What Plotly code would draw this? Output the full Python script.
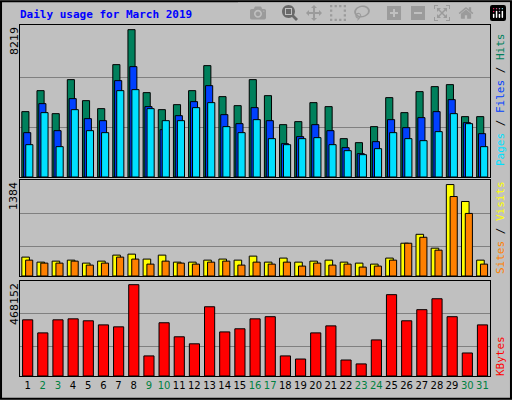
import plotly.graph_objects as go

days = list(range(1, 32))
hits = [3646,4817,3534,5431,4259,3813,6268,8219,4706,3757,4036,4817,6212,4483,3980,5431,4538,2920,3088,4148,3925,2139,1916,2809,4427,3590,4762,5041,5152,3367,3367]
files = [2474,4092,2585,4371,3255,3143,5375,6157,3925,2641,3422,4204,5096,3478,2976,3869,3143,1860,2251,2920,2585,1637,1302,1972,3199,2753,3311,3646,4315,3032,2418]
pages = [1804,3590,1693,3757,2585,2474,4817,4873,3813,3143,3143,3869,4148,2809,2474,3199,2139,1804,2139,2195,1804,1469,1246,1581,2474,2139,2027,2530,3534,2976,1693]
visits = [286,210,225,240,195,225,316,331,256,316,210,210,240,256,240,301,210,271,210,225,240,210,195,180,271,496,631,421,1384,1128,240]
sites = [240,195,195,225,165,195,286,256,180,225,195,180,210,225,165,210,180,210,150,195,165,180,135,150,240,496,586,391,1203,947,180]
kbytes = [288000,221000,288000,293000,283000,262000,252000,468152,103000,273000,201000,165000,355000,226000,242000,293000,304000,103000,87000,221000,257000,82000,62000,185000,417000,283000,340000,396000,304000,118000,262000]
weekend = {2,3,9,10,16,17,23,24,30,31}
tick_text = [f'<span style="color:{"#008040" if d in weekend else "#000000"}">{d}</span>' for d in days]

BG = "#c0c0c0"
fig = go.Figure()
mk = lambda c: dict(color=c, line=dict(color="black", width=1))
fig.add_bar(x=days, y=hits, width=0.47, offset=-0.38, marker=mk("#00805c"), xaxis="x", yaxis="y")
fig.add_bar(x=days, y=files, width=0.47, offset=-0.26, marker=mk("#0040ff"), xaxis="x", yaxis="y")
fig.add_bar(x=days, y=pages, width=0.47, offset=-0.12, marker=mk("#00e0ff"), xaxis="x", yaxis="y")
fig.add_bar(x=days, y=visits, width=0.5, offset=-0.38, marker=mk("#ffff00"), xaxis="x2", yaxis="y2")
fig.add_bar(x=days, y=sites, width=0.47, offset=-0.13, marker=mk("#ff8000"), xaxis="x2", yaxis="y2")
fig.add_bar(x=days, y=kbytes, width=0.67, offset=-0.33, marker=mk("#ff0000"), xaxis="x3", yaxis="y3")

xd = [20/512, 490/512]
common_x = dict(range=[0.5, 31.5], domain=xd, showgrid=False, zeroline=False,
                showline=True, linecolor="black", mirror=True, fixedrange=True)
fig.update_layout(
    width=512, height=400, margin=dict(l=0, r=0, t=0, b=0),
    paper_bgcolor=BG, plot_bgcolor=BG, showlegend=False, barmode="overlay",
    font=dict(family="DejaVu Sans Mono", size=11, color="black"),
    xaxis=dict(common_x, anchor="y", showticklabels=False, ticks=""),
    xaxis2=dict(common_x, anchor="y2", showticklabels=False, ticks=""),
    xaxis3=dict(common_x, anchor="y3", tickvals=days, ticktext=tick_text, ticks="",
                tickangle=0, tickfont=dict(family="DejaVu Sans", size=10)),
    yaxis=dict(domain=[223/400, 375/400], range=[0, 8479], tickvals=[2752, 5578],
               showticklabels=False, gridcolor="#808080", zeroline=False,
               showline=True, linecolor="black", mirror=True),
    yaxis2=dict(domain=[124/400, 220/400], range=[0, 1453], tickvals=[451, 952],
                showticklabels=False, gridcolor="#808080", zeroline=False,
                showline=True, linecolor="black", mirror=True),
    yaxis3=dict(domain=[24/400, 119/400], range=[0, 487000], tickvals=[149000, 320700],
                showticklabels=False, gridcolor="#808080", zeroline=False,
                showline=True, linecolor="black", mirror=True),
)
def ann(text, x, y, angle=-90, anchor="top", color="black", size=11, xanchor="center"):
    fig.add_annotation(text=text, x=x, y=y, xref="paper", yref="paper", showarrow=False,
                       textangle=angle, yanchor=anchor, xanchor=xanchor,
                       font=dict(family="DejaVu Sans", size=size, color=color))
ann("Daily usage for March 2019", 18/512, 1-6/400, angle=0, color="#0000ff", xanchor="left")
fig.layout.annotations[-1].font.family = "DejaVu Sans Mono"
fig.layout.annotations[-1].font.weight = "bold"
ann(f"{max(hits)}", 14/512, 375/400)
ann(f"{max(visits)}", 14/512, 220/400)
ann(f"{max(kbytes)}", 14/512, 119/400)
mono = "DejaVu Sans Mono"
ann('<span style="color:#00e0ff">Pages</span> / <span style="color:#0040ff">Files</span> / <span style="color:#00805c">Hits</span>',
    500/512, 300/400, anchor="middle")
ann('<span style="color:#ff8000">Sites</span> / <span style="color:#ffff00">Visits</span>',
    500/512, 172/400, anchor="middle")
ann('<span style="color:#ff0000">KBytes</span>', 500/512, 44/400, anchor="middle")
for a in fig.layout.annotations[-3:]:
    a.font.family = mono
fig.add_shape(type="rect", xref="paper", yref="paper", x0=0.002, y0=0.003, x1=0.998, y1=0.997,
              line=dict(color="black", width=2))
fig.write_html("out.html", post_script="document.body.style.margin='0';document.body.style.overflow='hidden';")
